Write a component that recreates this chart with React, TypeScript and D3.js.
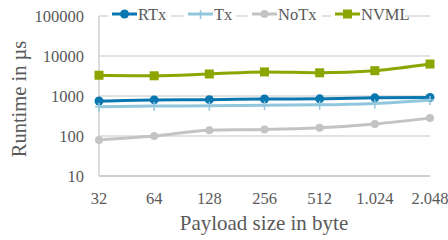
import React from "react";
import * as d3 from "d3";

const categories = ["32", "64", "128", "256", "512", "1.024", "2.048"];
const rtx = [750, 800, 810, 840, 850, 900, 920];
const tx = [540, 560, 570, 590, 600, 650, 800];
const notx = [80, 100, 140, 145, 160, 200, 280];
const nvml = [3300, 3200, 3550, 4000, 3800, 4300, 6300];
const yTicks = [10, 100, 1000, 10000, 100000];
const yTickLabels = ["10", "100", "1000", "10000", "100000"];

const W = 448, H = 240;
const left = 99, right = 430, top = 16, bottom = 176;
const font = "'Liberation Serif', 'Times New Roman', serif";
const textColor = "#595959";

export default function App() {
  const x = d3.scalePoint<string>().domain(categories).range([left, right]).padding(0);
  const y = d3.scaleLog().domain([10, 100000]).range([bottom, top]);
  const line = d3.line<number>().x((_, i) => x(categories[i])!).y(d => y(d)).curve(d3.curveMonotoneX);

  const series = [
    { name: "RTx", data: rtx, color: "#0A77B1", marker: "circle" },
    { name: "Tx", data: tx, color: "#92C6DD", marker: "plus" },
    { name: "NoTx", data: notx, color: "#C3C3C3", marker: "smallcircle" },
    { name: "NVML", data: nvml, color: "#8CA500", marker: "square" },
  ];

  const marker = (m: string, cx: number, cy: number, color: string, key: any) => {
    if (m === "circle") return <circle key={key} cx={cx} cy={cy} r={4.5} fill={color} />;
    if (m === "smallcircle") return <circle key={key} cx={cx} cy={cy} r={4} fill={color} />;
    if (m === "square") return <rect key={key} x={cx - 4.5} y={cy - 4.5} width={9} height={9} fill={color} />;
    return (
      <g key={key} stroke={color} strokeWidth={1.5}>
        <line x1={cx - 4} x2={cx + 4} y1={cy} y2={cy} />
        <line x1={cx} x2={cx} y1={cy - 4} y2={cy + 5} />
      </g>
    );
  };

  const legendX = [112, 188, 252, 335];

  return (
    <svg width={W} height={H} style={{ position: "absolute", left: 0, top: 0 }}>
      <rect width={W} height={H} fill="white" />
      {yTicks.map((t, i) => (
        <g key={t}>
          <line x1={left} x2={right} y1={y(t)} y2={y(t)} stroke="#D9D9D9" strokeWidth={1.5} />
          <text x={84} y={y(t)} dy="0.35em" textAnchor="end" fontFamily={font} fontSize={16.5} fill={textColor}>
            {yTickLabels[i]}
          </text>
        </g>
      ))}
      <line x1={left} x2={left} y1={top} y2={bottom} stroke="#D0D0D0" strokeWidth={1.5} />
      <line x1={left} x2={right} y1={bottom} y2={bottom} stroke="#C8C8C8" strokeWidth={1.5} />
      {categories.map(c => (
        <text key={c} x={x(c)} y={198} dy="0.35em" textAnchor="middle" fontFamily={font} fontSize={16.5} fill={textColor}>
          {c}
        </text>
      ))}
      <text x={264} y={223} dy="0.35em" textAnchor="middle" fontFamily={font} fontSize={21} fill={textColor}>
        Payload size in byte
      </text>
      <text transform={`translate(19, ${(top + bottom) / 2 + 3}) rotate(-90)`} dy="0.35em" textAnchor="middle" fontFamily={font} fontSize={20.5} fill={textColor}>
        Runtime in µs
      </text>
      {series.map(s => (
        <g key={s.name}>
          <path d={line(s.data)!} fill="none" stroke={s.color} strokeWidth={3} />
          {s.data.map((v, i) => marker(s.marker, x(categories[i])!, y(v), s.color, i))}
        </g>
      ))}
      {series.map((s, i) => (
        <g key={"lg" + s.name}>
          <rect x={legendX[i] - 4} y={6} width={30 + s.name.length * 11} height={16} fill="white" />
          <line x1={legendX[i]} x2={legendX[i] + 25} y1={14} y2={14} stroke={s.color} strokeWidth={3} />
          {marker(s.marker, legendX[i] + 12.5, 14, s.color, "m")}
          <text x={legendX[i] + 26} y={14} dy="0.35em" fontFamily={font} fontSize={16.5} fill={textColor}>
            {s.name}
          </text>
        </g>
      ))}
    </svg>
  );
}
